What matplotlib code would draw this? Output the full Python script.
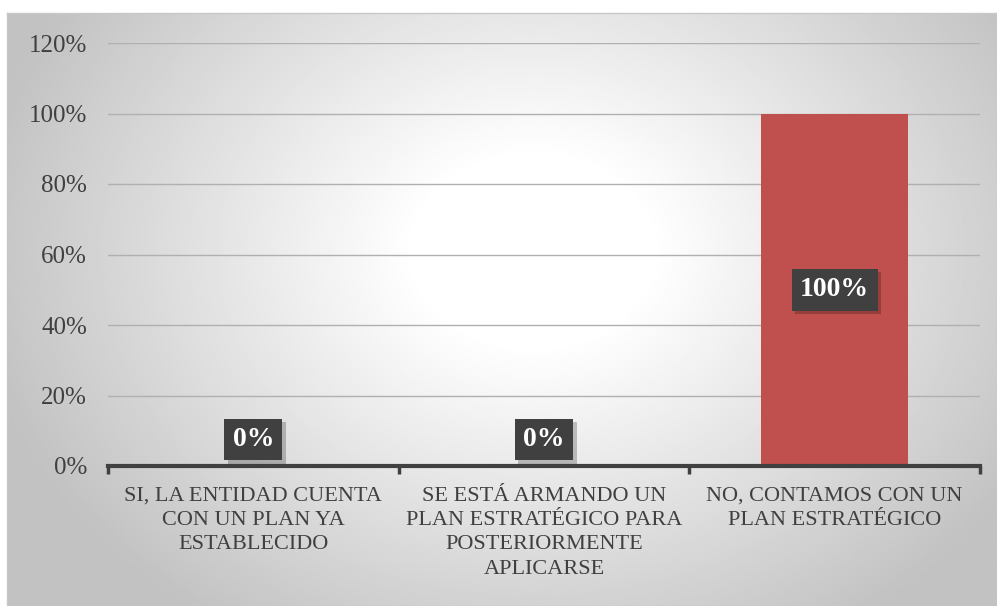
#!/usr/bin/env python3

"""
Bar chart: existence of a strategic plan in the entity.
"""

import matplotlib
matplotlib.use("Agg")
import matplotlib.pyplot as plt
import matplotlib.patheffects as pe
import numpy as np

# Data
categories = [
    "SI, LA ENTIDAD CUENTA\nCON UN PLAN YA\nESTABLECIDO",
    "SE ESTÁ ARMANDO UN\nPLAN ESTRATÉGICO PARA\nPOSTERIORMENTE\nAPLICARSE",
    "NO, CONTAMOS CON UN\nPLAN ESTRATÉGICO",
]
values = [0.0, 0.0, 1.0]
value_labels = ["0%", "0%", "100%"]
y_ticks = [0, 0.2, 0.4, 0.6, 0.8, 1.0, 1.2]
y_tick_labels = ["0%", "20%", "40%", "60%", "80%", "100%", "120%"]

plt.rcParams['font.family'] = ['Liberation Serif', 'DejaVu Serif']

W, H = 997, 606
fig = plt.figure(figsize=(W / 100, H / 100), dpi=100)

# Radial gradient background for the chart area
bg = fig.add_axes([7 / W, 0, 1 - 7 / W, (H - 13) / H])
ny, nx = 300, 500
yy, xx = np.mgrid[0:ny, 0:nx]
cx, cy = nx * 0.53, ny * 0.40
r = np.sqrt(((xx - cx) / nx) ** 2 + ((yy - cy) / ny * 0.75) ** 2)
shade = 1.0 - np.clip((r - 0.12) / 0.45, 0, 1) * 0.24
bg.imshow(shade, cmap="gray", vmin=0, vmax=1, aspect="auto",
          interpolation="bilinear", extent=[0, 1, 0, 1])
bg.set_xticks([])
bg.set_yticks([])
for s in bg.spines.values():
    s.set_color("#c8c8c8")
    s.set_linewidth(1)

ax = fig.add_axes([108 / W, (H - 466) / H, (980 - 108) / W, (466 - 43) / H])
ax.set_facecolor("none")

x = np.arange(len(categories))
ax.bar(x, values, width=0.507, color="#c0504d", zorder=2)

ax.set_xlim(-0.5, len(categories) - 0.5)
ax.set_ylim(0, 1.2)
ax.set_yticks(y_ticks)
ax.set_yticklabels(y_tick_labels, fontsize=18, color="#404040")
ax.yaxis.grid(True, color="#b0b0b0", linewidth=1, zorder=0)
ax.tick_params(axis="y", length=0, pad=15)

# Category boundary ticks on the x axis
ax.set_xticks(np.arange(len(categories) + 1) - 0.5, minor=False)
ax.set_xticklabels([])
ax.tick_params(axis="x", which="major", direction="out", length=6,
               width=2.5, color="#404040")
ax.set_xticks(x, minor=True)
ax.set_xticklabels(categories, minor=True, fontsize=16, color="#404040",
                   linespacing=1.38)
ax.tick_params(axis="x", which="minor", length=0, pad=15)

for side in ("top", "right", "left"):
    ax.spines[side].set_visible(False)
ax.spines["bottom"].set_color("#404040")
ax.spines["bottom"].set_linewidth(3)
ax.spines["bottom"].set_zorder(3)

# Data labels with dark boxes and a soft shadow
for xi, v, lab in zip(x, values, value_labels):
    y = max(v / 2, 0.075)
    t = ax.annotate(lab, (xi, y), ha="center", va="center", fontsize=20,
                    fontweight="bold", color="white", zorder=5,
                    bbox=dict(boxstyle="square,pad=0.3", fc="#404040",
                              ec="none"))
    t.get_bbox_patch().set_path_effects([
        pe.SimplePatchShadow(offset=(2.5, -2.5), shadow_rgbFace="black",
                             alpha=0.22),
        pe.Normal(),
    ])

fig.savefig("out.png", dpi=100)
